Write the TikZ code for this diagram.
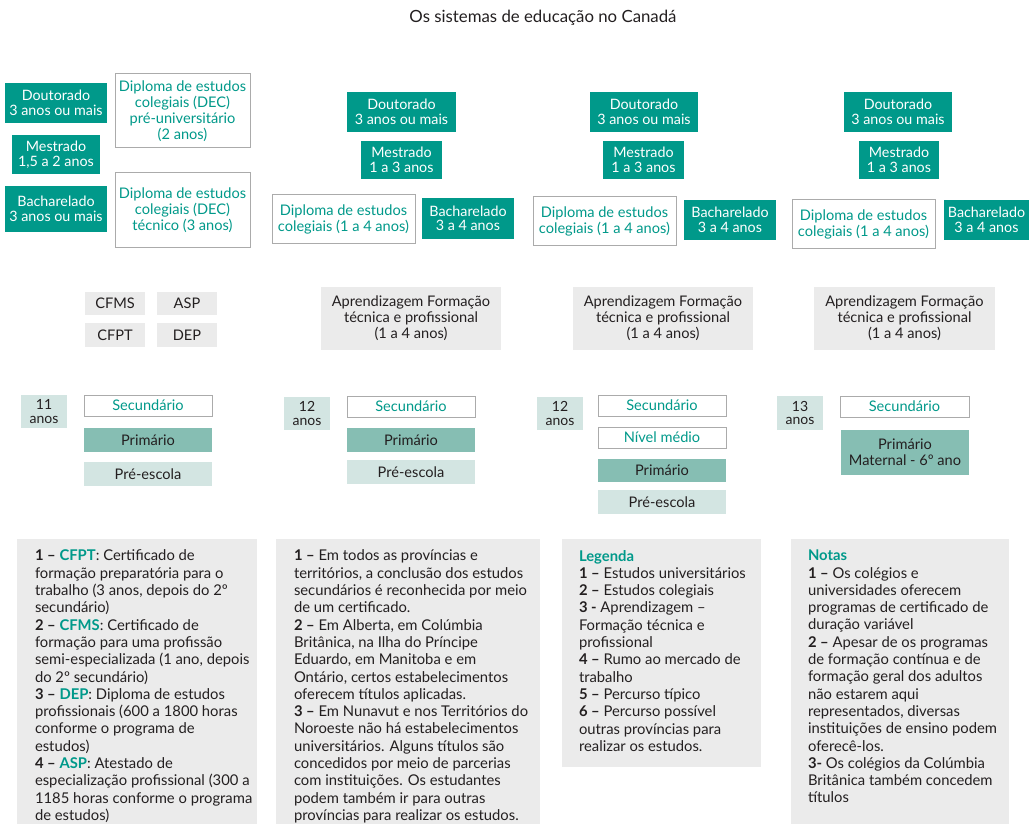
\documentclass[tikz,border=0pt]{standalone}
\usepackage{fontspec}
\setmainfont{Lato}
\definecolor{tealD}{HTML}{00998A}
\definecolor{midT}{HTML}{86BEB3}
\definecolor{lightT}{HTML}{D3E5E2}
\definecolor{grayF}{HTML}{EBEBEB}
\definecolor{borderG}{HTML}{ABABAB}
\definecolor{txt}{HTML}{231F20}
\newcommand\myplace[7]{\node[#2, anchor=north west, minimum width=#5pt, minimum height=#6pt] (#1) at (#3,#4) {#7};}
\newcommand\fa{\fontsize{14.3}{14.5}\selectfont}
\newcommand\fb{\fontsize{14.6}{16}\selectfont}
\newcommand\fc{\fontsize{14.8}{17.3}\selectfont}
\newcommand\nb[1]{\textbf{#1}}
\newcommand\tb[1]{\textcolor{tealD}{\textbf{#1}}}
\tikzset{
  base/.style={inner sep=0pt, outer sep=0pt, align=center},
  dark/.style={base, fill=tealD, text=white, font=\fa},
  outl/.style={base, draw=borderG, line width=1pt, fill=white, text=tealD, font=\fb},
  grayb/.style={base, fill=grayF, text=txt, font=\fb},
  midb/.style={base, fill=midT, text=txt, font=\fb},
  lightb/.style={base, fill=lightT, text=txt, font=\fb},
  ageb/.style={base, fill=lightT, text=txt, font=\fontsize{14}{13.5}\selectfont},
  panel/.style={base, fill=grayF},
  ptext/.style={inner sep=0pt, outer sep=0pt, align=left, anchor=north west, text=txt, font=\fc},
}
\begin{document}
\begin{tikzpicture}[x=1pt,y=-1pt]
\useasboundingbox (0,0) rectangle (1029,824);
\node[font=\fontsize{16.8}{19}\selectfont, text=txt] (title) at (543,18) {Os sistemas de educação no Canadá};
% column 1
\myplace{d1}{dark}{5}{83}{102}{40}{Doutorado\\3 anos ou mais}
\myplace{m1}{dark}{12}{135}{88}{39}{Mestrado\\1,5 a 2 anos}
\myplace{b1}{dark}{5}{186}{102}{46}{Bacharelado\\3 anos ou mais}
\myplace{dec1}{outl}{115}{74}{135}{74}{Diploma de estudos\\colegiais (DEC)\\pré-universitário\\(2 anos)}
\myplace{dec2}{outl}{115}{173}{135}{74}{Diploma de estudos\\colegiais (DEC)\\técnico (3 anos)}
\myplace{cfms}{grayb}{85}{292}{60}{23}{CFMS}
\myplace{asp}{grayb}{157}{292}{60}{23}{ASP}
\myplace{cfpt}{grayb}{85}{323}{60}{24}{CFPT}
\myplace{dep}{grayb}{157}{323}{60}{24}{DEP}
\myplace{a1}{ageb}{21}{395}{46}{33}{11\\anos}
\myplace{s1}{outl}{84}{395}{128}{21}{Secundário}
\myplace{p1}{midb}{84}{428}{128}{24}{Primário}
\myplace{pe1}{lightb}{84}{462}{128}{24}{Pré-escola}
% column 2
\myplace{d2}{dark}{347}{92}{109}{40}{Doutorado\\3 anos ou mais}
\myplace{m2}{dark}{361}{141}{81}{38}{Mestrado\\1 a 3 anos}
\myplace{dc2}{outl}{272}{195}{143}{48}{Diploma de estudos\\colegiais (1 a 4 anos)}
\myplace{b2}{dark}{422}{198}{92}{41}{Bacharelado\\3 a 4 anos}
\myplace{ap2}{grayb}{321}{287}{180}{63}{Aprendizagem Formação\\técnica e profissional\\(1 a 4 anos)}
\myplace{a2}{ageb}{284}{397}{46}{33}{12\\anos}
\myplace{s2}{outl}{347}{396}{128}{21}{Secundário}
\myplace{p2}{midb}{347}{428}{128}{24}{Primário}
\myplace{pe2}{lightb}{347}{460}{128}{24}{Pré-escola}
% column 3
\myplace{d3}{dark}{590}{92}{108}{40}{Doutorado\\3 anos ou mais}
\myplace{m3}{dark}{603}{141}{81}{38}{Mestrado\\1 a 3 anos}
\myplace{dc3}{outl}{533}{197}{143}{48}{Diploma de estudos\\colegiais (1 a 4 anos)}
\myplace{b3}{dark}{684}{200}{92}{40}{Bacharelado\\3 a 4 anos}
\myplace{ap3}{grayb}{573}{287}{180}{63}{Aprendizagem Formação\\técnica e profissional\\(1 a 4 anos)}
\myplace{a3}{ageb}{537}{397}{46}{33}{12\\anos}
\myplace{s3}{outl}{598}{395}{128}{21}{Secundário}
\myplace{n3}{outl}{598}{427}{128}{21}{Nível médio}
\myplace{p3}{midb}{598}{459}{128}{23}{Primário}
\myplace{pe3}{lightb}{598}{490}{128}{24}{Pré-escola}
% column 4
\myplace{d4}{dark}{844}{92}{108}{40}{Doutorado\\3 anos ou mais}
\myplace{m4}{dark}{859}{141}{80}{38}{Mestrado\\1 a 3 anos}
\myplace{dc4}{outl}{792}{200}{143}{48}{Diploma de estudos\\colegiais (1 a 4 anos)}
\myplace{b4}{dark}{944}{200}{85}{40}{Bacharelado\\3 a 4 anos}
\myplace{ap4}{grayb}{814}{287}{181}{63}{Aprendizagem Formação\\técnica e profissional\\(1 a 4 anos)}
\myplace{a4}{ageb}{777}{396}{46}{34}{13\\anos}
\myplace{s4}{outl}{840}{396}{129}{21}{Secundário}
\myplace{p4}{midb}{841}{430}{128}{45}{Primário\\Maternal - 6º ano}
% bottom panels
\myplace{bx1}{panel}{17}{539}{240}{285}{}
\myplace{bx2}{panel}{276}{539}{264}{285}{}
\myplace{bx3}{panel}{562}{539}{199}{228}{}
\myplace{bx4}{panel}{791}{539}{218}{285}{}
\node[ptext] (t1) at (35,550) {\nb{1 –} \tb{CFPT}: Certificado de\\formação preparatória para o\\trabalho (3 anos, depois do 2º\\secundário)\\\nb{2 –} \tb{CFMS}: Certificado de\\formação para uma profissão\\semi-especializada (1 ano, depois\\do 2º secundário)\\\nb{3 –} \tb{DEP}: Diploma de estudos\\profissionais (600 a 1800 horas\\conforme o programa de\\estudos)\\\nb{4 –} \tb{ASP}: Atestado de\\especialização profissional (300 a\\1185 horas conforme o programa\\de estudos)};
\node[ptext] (t2) at (294,550) {\nb{1 –} Em todos as províncias e\\territórios, a conclusão dos estudos\\secundários é reconhecida por meio\\de um certificado.\\\nb{2 –} Em Alberta, em Colúmbia\\Britânica, na Ilha do Príncipe\\Eduardo, em Manitoba e em\\Ontário, certos estabelecimentos\\oferecem títulos aplicadas.\\\nb{3 –} Em Nunavut e nos Territórios do\\Noroeste não há estabelecimentos\\universitários. Alguns títulos são\\concedidos por meio de parcerias\\com instituições. Os estudantes\\podem também ir para outras\\províncias para realizar os estudos.};
\node[ptext] (t3) at (579,550) {\tb{Legenda}\\\nb{1 –} Estudos universitários\\\nb{2 –} Estudos colegiais\\\nb{3 -} Aprendizagem –\\Formação técnica e\\profissional\\\nb{4 –} Rumo ao mercado de\\trabalho\\\nb{5 –} Percurso típico\\\nb{6 –} Percurso possível\\outras províncias para\\realizar os estudos.};
\node[ptext] (t4) at (808,550) {\tb{Notas}\\\nb{1 –} Os colégios e\\universidades oferecem\\programas de certificado de\\duração variável\\\nb{2 –} Apesar de os programas\\de formação contínua e de\\formação geral dos adultos\\não estarem aqui\\representados, diversas\\instituições de ensino podem\\oferecê-los.\\\nb{3-} Os colégios da Colúmbia\\Britânica também concedem\\títulos};
\end{tikzpicture}
\end{document}
